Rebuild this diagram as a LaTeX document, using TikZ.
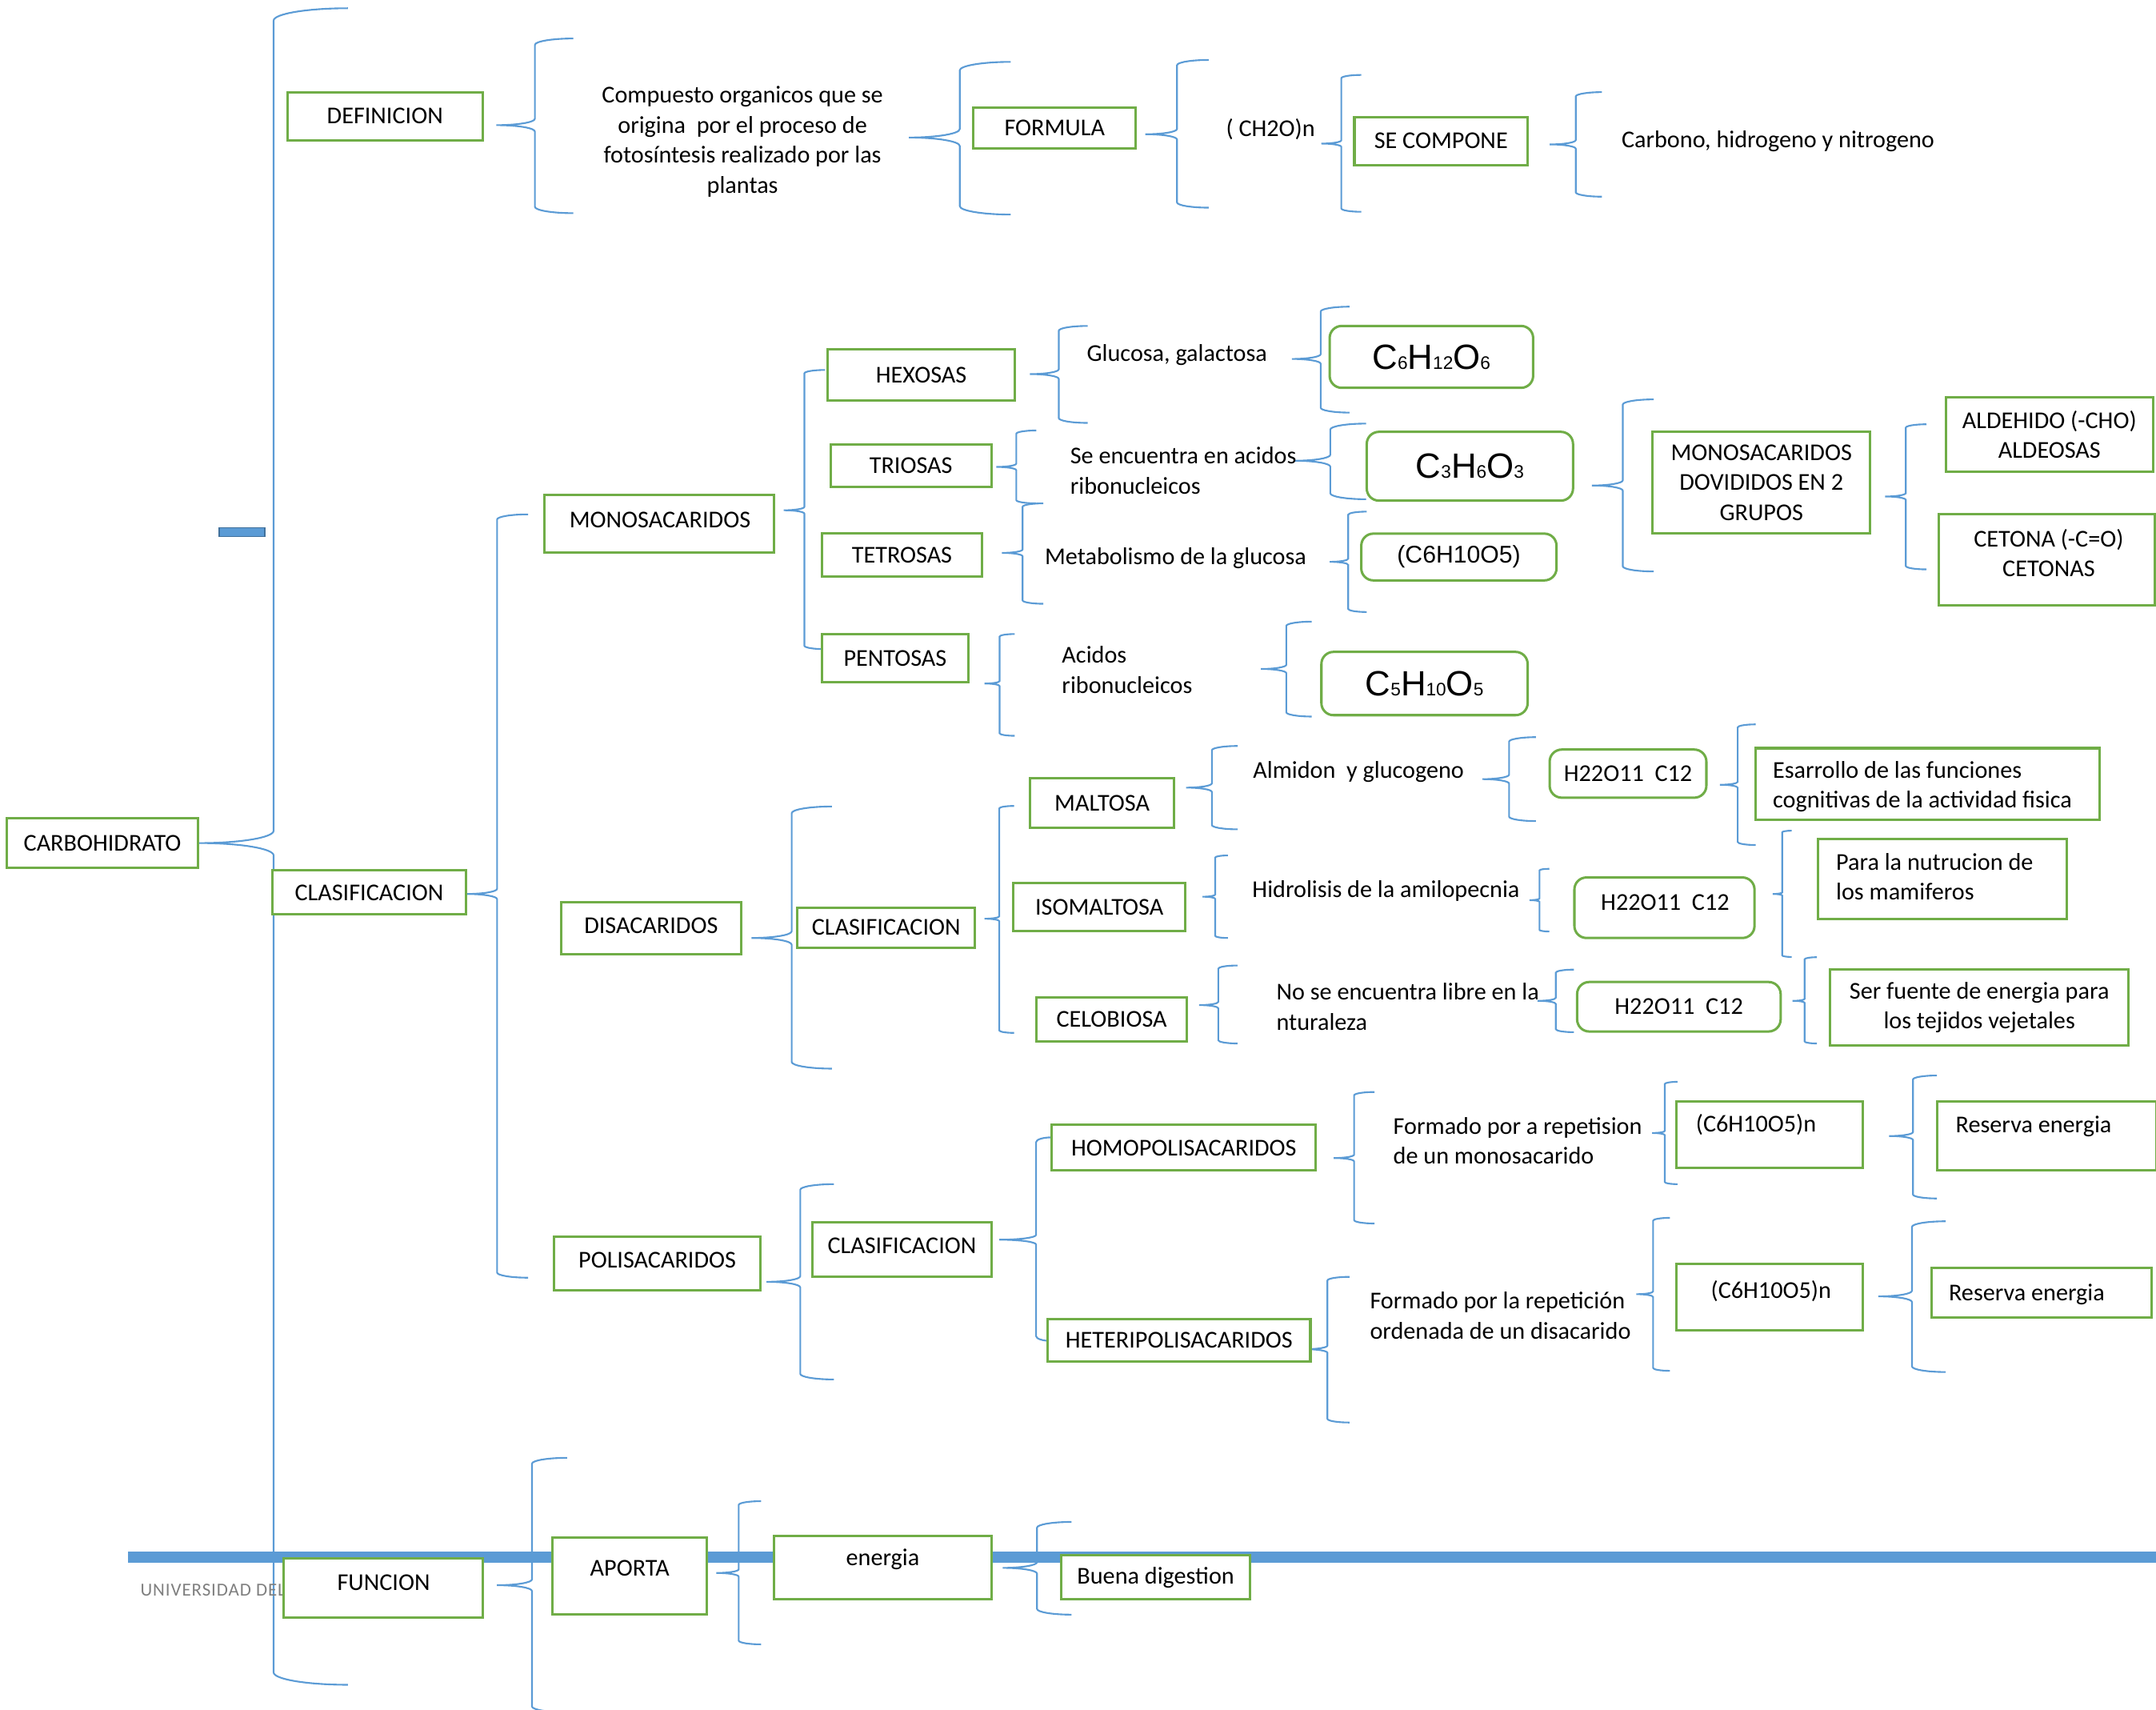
\documentclass[tikz,border=0pt]{standalone}
\usepackage{fontspec}
\setmainfont{Carlito}
\newfontfamily\arialf{Liberation Sans}
\definecolor{bl}{HTML}{5B9BD5}
\definecolor{gr}{HTML}{70AD47}
\definecolor{bldk}{HTML}{41719C}
\definecolor{gy}{HTML}{7F7F7F}
\newcommand\sbs[1]{{\fontsize{7.5}{7.5}\selectfont #1}}
\newcommand\bx[7][]{%
 \pgfmathsetmacro\bxw{(#5-#3)*0.02}%
 \pgfmathsetmacro\bxh{(#6-#4)*0.02}%
 \node[box,#1,minimum width=\bxw cm,minimum height=\bxh cm] (#2) at ({(#3+#5)/2},{(#4+#6)/2}) {#7};}
% general brace: xtip, xv, xend, ytip, ytop, ybot, r
\newcommand\brcx[7]{%
 \pgfmathsetmacro\brxt{#1}\pgfmathsetmacro\brxv{#2}\pgfmathsetmacro\brxe{#3}%
 \pgfmathsetmacro\brym{#4}\pgfmathsetmacro\brry{#7}%
 \pgfmathsetmacro\brkl{0.5523*(\brxv-\brxt)}\pgfmathsetmacro\brkr{0.5523*(\brxe-\brxv)}%
 \pgfmathsetmacro\brky{0.5523*\brry}%
 \draw[bracestyle] (\brxe,#5) .. controls ({\brxe-\brkr},#5) and (\brxv,{#5+\brry-\brky}) .. (\brxv,{#5+\brry})
  -- (\brxv,{\brym-\brry}) .. controls (\brxv,{\brym-\brry+\brky}) and ({\brxt+\brkl},\brym) .. (\brxt,\brym)
  .. controls ({\brxt+\brkl},\brym) and (\brxv,{\brym+\brry-\brky}) .. (\brxv,{\brym+\brry})
  -- (\brxv,{#6-\brry}) .. controls (\brxv,{#6-\brry+\brky}) and ({\brxe-\brkr},#6) .. (\brxe,#6);}
% symmetric brace: xtip, ytip, width, ytop, ybot
\newcommand\brc[5]{\brcx{#1}{(#1)+(#3)/2}{(#1)+(#3)}{#2}{#4}{#5}{(#3)/12}}
\tikzset{
 box/.style={draw=gr, line width=1pt, fill=white, inner sep=1pt, align=center, font=\fontsize{10}{12.5}\selectfont},
 rbox/.style={rounded corners=5pt},
 bracestyle/.style={draw=bl, line width=0.7pt},
 txt/.style={inner sep=0pt, align=left, font=\fontsize{10}{12.5}\selectfont}
}
\begin{document}
\begin{tikzpicture}[x=0.02cm,y=-0.02cm]
\useasboundingbox (0,0) rectangle (1568,1243);
% bar
\fill[bl] (93,1128) rectangle (1568,1136);
% braces
\brc{145}{613}{108}{6}{1225}
\brc{361}{91}{56}{28}{155}
\brc{661}{100}{74}{45}{156}
\brc{833}{97.6}{46}{43.6}{151}
\brc{961}{104.4}{29}{54.5}{154}
\brc{1127}{105}{38}{67}{143}
\brc{339}{650}{45}{374}{929}
\brc{570}{371}{30}{269}{472}
\brc{749}{272}{42}{237}{307.5}
\brc{724.6}{339.5}{29}{313}{366}
\brc{728.7}{402}{30}{366}{439}
\brc{716}{497}{22}{461}{535}
\brc{939.5}{261}{42}{223}{300}
\brc{941.5}{335}{52}{308}{363}
\brc{967}{408.5}{27}{372}{445}
\brc{917}{486.4}{37}{452}{521}
\brc{1157.7}{353}{45}{290.4}{415.5}
\brc{1371}{361}{30}{308.5}{414}
\brc{546.5}{682}{58.5}{586.4}{777}
\brc{716}{668}{21.5}{586}{751}
\brc{557.5}{932}{49}{861}{1003}
\brcx{726.8}{753.5}{764.5}{901.4}{827}{975}{3.5}
\brc{862.6}{572.7}{37.5}{542.4}{603}
\brc{1078}{566.5}{39}{536}{597}
\brc{1250.8}{570.6}{26}{526.7}{614.4}
\brc{874.5}{652}{18.5}{622}{682}
\brc{1112.4}{654.5}{14.4}{631.7}{677.3}
\brc{1289.3}{650}{13.7}{604}{695.8}
\brc{872}{730.8}{28}{702}{758.7}
\brc{1118.2}{727.7}{26.5}{705}{750.5}
\brc{1303.6}{727.7}{17.7}{696}{758.7}
\brc{970}{842}{29.6}{794}{889.6}
\brc{1201.5}{823.8}{18.5}{786.6}{861}
\brc{1373.9}{826}{34.7}{782}{871.4}
\brc{949.4}{981}{32}{928.4}{1034.3}
\brc{1190}{941}{24.5}{885.5}{996.7}
\brc{1366}{942.6}{49}{888}{997.6}
\brc{361.4}{1152.6}{51}{1060}{1245}
\brc{521}{1143.7}{32.5}{1091.5}{1195.6}
\brc{729.2}{1140}{50}{1106.6}{1174}
% decorations
\draw[bldk, fill=bl, line width=0.5pt] (159.5,383.6) rectangle (192.6,390);
\node[anchor=west, inner sep=0pt, text=gy, font=\fontsize{7.6}{9}\selectfont\addfontfeature{LetterSpace=4}] (univ) at (101.8,1156) {UNIVERSIDAD DEL};
% level 0/1
\bx{carb}{5}{595}{144}{631}{CARBOHIDRATO}
\bx{def}{209}{67}{351}{102}{DEFINICION}
\bx{clas}{198}{633}{339}{665}{CLASIFICACION}
\bx{func}{206}{1133}{351}{1176}{}
\node[txt] (functxt) at (279,1151) {FUNCION};
% definicion row
\node[txt, align=center] (comp) at (540,103) {Compuesto organicos que se\\origina\ \ por el proceso de\\fotosíntesis realizado por las\\plantas};
\bx{formula}{708}{78}{826}{108}{FORMULA}
\node[txt] (ch2o) at (924,94) {( CH2O)n};
\bx{secomp}{985}{85}{1111}{120}{SE COMPONE}
\node[txt, anchor=west] (carbono) at (1179,103) {Carbono, hidrogeno y nitrogeno};
% monosacaridos
\bx{mono}{396}{360}{563}{402}{}
\node[txt] (monotxt) at (480,378) {MONOSACARIDOS};
\bx{hex}{602}{254}{738}{291}{HEXOSAS}
\bx{tri}{604}{323}{721}{354}{TRIOSAS}
\bx{tet}{598}{388}{714}{419}{TETROSAS}
\bx{pen}{598}{461}{704}{496}{PENTOSAS}
\node[txt] (gluc) at (856,258) {Glucosa, galactosa};
\node[txt, anchor=west] (seenc) at (778,342) {Se encuentra en acidos\\ribonucleicos};
\node[txt] (metab) at (855,406) {Metabolismo de la glucosa};
\node[txt, anchor=west] (acid) at (772,487) {Acidos\\ribonucleicos};
\bx[rbox]{fa}{967}{237}{1115}{282}{\arialf\fontsize{14.5}{14.5}\selectfont C\sbs{6}H\sbs{12}O\sbs{6}}
\bx[rbox]{fb}{994}{314}{1144}{364}{\arialf\fontsize{14.5}{14.5}\selectfont C\sbs{3}H\sbs{6}O\sbs{3}}
\bx[rbox]{fc}{990}{388}{1132}{422}{\arialf\fontsize{10}{12}\selectfont (C6H10O5)}
\bx[rbox]{fd}{961}{474}{1111}{520}{\arialf\fontsize{14.5}{14.5}\selectfont C\sbs{5}H\sbs{10}O\sbs{5}}
\bx{mdg}{1202}{314}{1360}{388}{MONOSACARIDOS\\DOVIDIDOS EN 2\\GRUPOS}
\bx{ald}{1415}{289}{1566}{343}{ALDEHIDO (-CHO)\\ALDEOSAS}
\bx{cet}{1410}{374}{1567}{440}{}
\node[txt, align=center] (cettxt) at (1490,402) {CETONA (-C=O)\\CETONAS};
% disacaridos
\bx{dis}{408}{656}{539}{694}{}
\node[txt] (distxt) at (473.5,673) {DISACARIDOS};
\bx{clasd}{580}{660}{709}{689}{CLASIFICACION}
\bx{malt}{749}{566}{854}{602}{MALTOSA}
\bx{iso}{737}{642}{862}{677}{ISOMALTOSA}
\bx{celo}{754}{725}{863}{757}{CELOBIOSA}
\node[txt] (alm) at (988,561) {Almidon\ \ y glucogeno};
\node[txt] (hid) at (1008,648) {Hidrolisis de la amilopecnia};
\node[txt, anchor=west] (nose) at (928,732) {No se encuentra libre en la\\nturaleza};
\bx[rbox]{ha}{1127}{545}{1241}{580}{H22O11\ \ C12}
\bx[rbox]{hb}{1145}{638}{1276}{682}{}
\node[txt] (hbtxt) at (1211,656) {H22O11\ \ C12};
\bx[rbox]{hc}{1147}{714}{1295}{750}{H22O11\ \ C12}
\bx{esar}{1277}{544}{1527}{596}{}
\node[txt, anchor=west] (esartxt) at (1289,572) {Esarrollo de las funciones\\cognitivas de la actividad fisica};
\bx{para}{1322}{610}{1503}{668}{}
\node[txt, anchor=west] (paratxt) at (1335,637.5) {Para la nutrucion de\\los mamiferos};
\bx{ser}{1331}{705}{1548}{760}{Ser fuente de energia para\\los tejidos vejetales}
% polisacaridos
\bx{poli}{403}{899}{553}{938}{}
\node[txt] (politxt) at (478,916) {POLISACARIDOS};
\bx{clasp}{591}{889}{721}{928}{}
\node[txt] (clasptxt) at (656,906) {CLASIFICACION};
\bx{homo}{765}{818}{957}{851}{HOMOPOLISACARIDOS}
\bx{hetero}{762}{959}{953}{990}{HETERIPOLISACARIDOS}
\node[txt, anchor=west] (forma) at (1013,829.5) {Formado por a repetision\\de un monosacarido};
\node[txt, anchor=west] (formb) at (996,956.5) {Formado por la repetición\\ordenada de un disacarido};
\bx{cna}{1219}{801}{1355}{849}{}
\node[txt, anchor=west] (cnatxt) at (1233,818) {(C6H10O5)n};
\bx{cnb}{1219}{919}{1355}{967}{}
\node[txt] (cnbtxt) at (1288,939) {(C6H10O5)n};
\bx{resa}{1409}{801}{1568}{851}{}
\node[txt, anchor=west] (resatxt) at (1422,819) {Reserva energia};
\bx{resb}{1405}{922}{1565}{958}{}
\node[txt, anchor=west] (resbtxt) at (1417,941) {Reserva energia};
% funcion
\bx{aporta}{402}{1118}{514}{1174}{}
\node[txt] (aportatxt) at (458,1140) {APORTA};
\bx{energia}{563}{1117}{721}{1163}{}
\node[txt] (energiatxt) at (642,1134) {energia};
\bx{buena}{772}{1131}{909}{1163}{Buena digestion}
\end{tikzpicture}
\end{document}
